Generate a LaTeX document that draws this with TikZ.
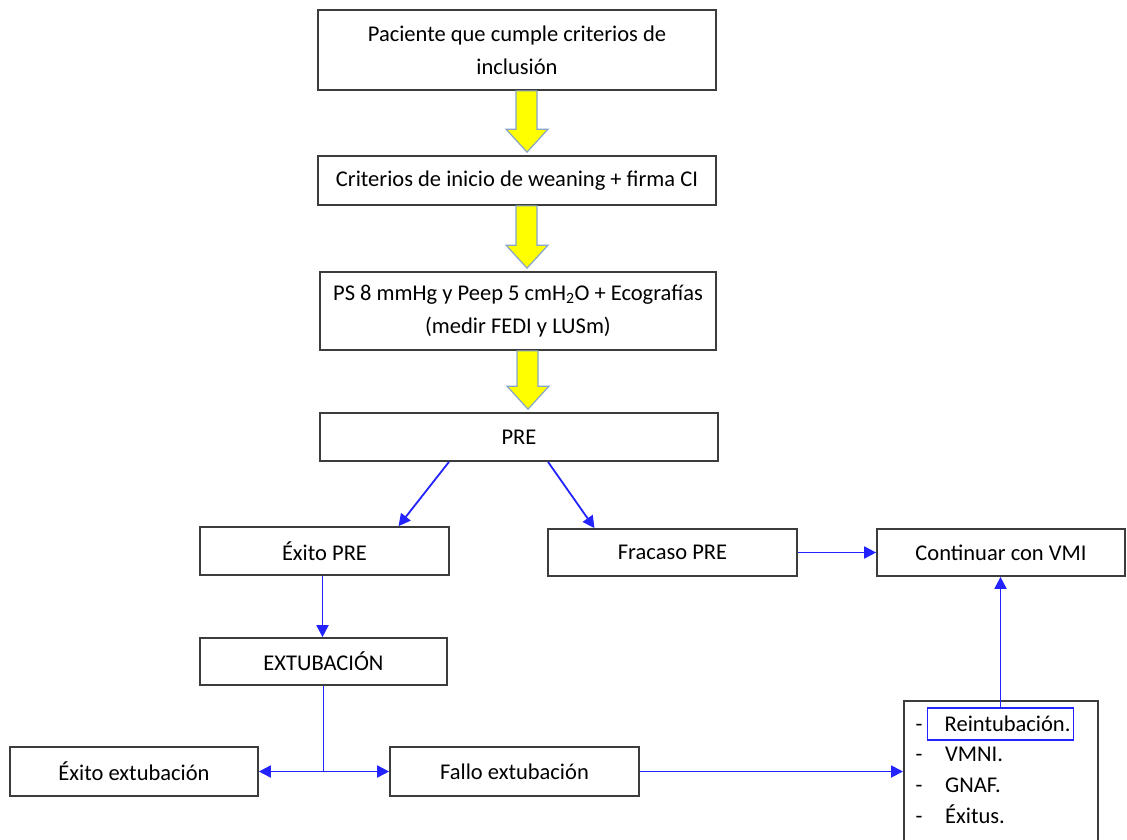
\documentclass[tikz,border=0pt]{standalone}
\usepackage{fontspec}
\setmainfont{Carlito}
\usetikzlibrary{arrows.meta, calc}
\definecolor{borde}{RGB}{60,60,60}
\definecolor{azul}{RGB}{35,35,255}
\definecolor{amarillo}{RGB}{255,255,0}
\definecolor{contorno}{RGB}{135,165,200}

\tikzset{
  caja/.style={draw=borde, line width=1.7pt, align=center, inner sep=2pt},
  flujo/.style={azul, line width=1.8pt, -{Triangle[length=12pt,width=12pt]}},
  amarilla/.style={fill=amarillo, draw=contorno, line width=1.2pt},
}
% flecha amarilla de bloque entre dos cajas
\newcommand{\flechaamarilla}[2]{%
  \filldraw[amarilla] let \p1=(#1.south), \p2=(#2.north) in
    (\x1-1pt,\y1) -- (\x1-1pt,\y2+26pt) -- (\x1-11pt,\y2+26pt) -- (\x1+10pt,\y2+3pt)
    -- (\x1+31pt,\y2+26pt) -- (\x1+20pt,\y2+26pt) -- (\x1+20pt,\y1) -- cycle;}

\begin{document}
\begin{tikzpicture}[x=1pt,y=-1pt,font=\fontsize{22.5}{33}\selectfont]
\useasboundingbox (0,0) rectangle (1127,839);

% Cajas
\node[caja, minimum width=398pt, minimum height=80pt] (inclusion) at (517,50) {Paciente que cumple criterios de\\inclusión};
\node[caja, minimum width=398pt, minimum height=49pt] (criterios) at (517,180.5) {Criterios de inicio de weaning + firma CI};
\node[caja, minimum width=396pt, minimum height=78pt] (ecografias) at (518,311) {PS 8 mmHg y Peep 5 cmH\textsubscript{2}O + Ecografías\\(medir FEDI y LUSm)};
\node[caja, minimum width=398pt, minimum height=48pt] (pre) at (519,437) {PRE};
\node[caja, minimum width=249pt, minimum height=48pt] (exitopre) at (324.5,551) {Éxito PRE};
\node[caja, minimum width=249pt, minimum height=47pt] (fracaso) at (672.5,552.5) {Fracaso PRE};
\node[caja, minimum width=248pt, minimum height=47pt] (continuar) at (1001,552.5) {Continuar con VMI};
\node[caja, minimum width=247pt, minimum height=47pt] (extubacion) at (323.5,661.5) {EXTUBACIÓN};
\node[caja, minimum width=248pt, minimum height=49pt] (exitoext) at (134,771.5) {Éxito extubación};
\node[caja, minimum width=249pt, minimum height=49pt] (fallo) at (514.5,771.5) {Fallo extubación};

% Lista (se sale por abajo)
\node[caja, anchor=north west, minimum width=194pt, minimum height=170pt] (lista) at (903,700) {};
\node[draw=azul, line width=1.5pt, text width=140pt, align=right, inner xsep=3pt, inner ysep=0pt, minimum height=32pt] (reint) at (1000.5,724) {Reintubación.};
\node[anchor=base] (g1) at (919,731) {-};
\node[anchor=base] (g2) at (919,761) {-};
\node[anchor=base] (g3) at (919,792) {-};
\node[anchor=base] (g4) at (919,823) {-};
\node[anchor=base west, inner sep=0pt] (vmni) at (945,761) {VMNI.};
\node[anchor=base west, inner sep=0pt] (gnaf) at (945,792) {GNAF.};
\node[anchor=base west, inner sep=0pt] (exitus) at (945,823) {Éxitus.};

% Flechas amarillas
\flechaamarilla{inclusion}{criterios}
\flechaamarilla{criterios}{ecografias}
\flechaamarilla{ecografias}{pre}

% Conectores
\draw[flujo] ([xshift=-70pt]pre.south) -- ([xshift=74pt]exitopre.north);
\draw[flujo] ([xshift=29pt]pre.south) -- ([xshift=-78pt]fracaso.north);
\draw[flujo] ([xshift=-2pt]exitopre.south) -- ([xshift=-2pt]exitopre.south |- extubacion.north);
\coordinate (cruce) at (extubacion.south |- fallo.west);
\draw[azul, line width=1.8pt] (extubacion.south) -- (cruce);
\draw[flujo] (cruce) -- (exitoext.east);
\draw[flujo] (cruce) -- (fallo.west);
\draw[flujo] (fracaso) -- (continuar);
\draw[flujo] (fallo.east) -- (fallo.east -| lista.west);
\draw[flujo] (reint.north) -- (reint.north |- continuar.south);

\end{tikzpicture}
\end{document}
